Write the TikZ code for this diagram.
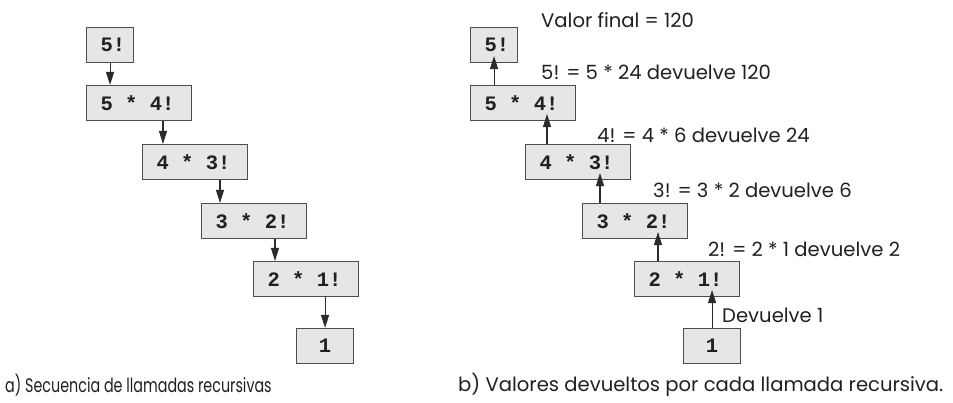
\documentclass[tikz,border=0pt]{standalone}
\usepackage{fontspec}
\setmainfont{Poppins}
\setmonofont{Liberation Mono}
\newfontfamily\capafont{Poppins}[FakeStretch=0.73]
\newcommand\monogap{\hspace*{0.6em}}
\usetikzlibrary{arrows.meta,calc}
\definecolor{boxfill}{HTML}{E6E6E6}
\definecolor{boxline}{HTML}{4D4D4D}
\definecolor{arrcol}{HTML}{2B2B2B}
\definecolor{txt}{HTML}{231F20}
\begin{document}
\begin{tikzpicture}[x=1pt,y=-1pt,
  bx/.style={draw=boxline, fill=boxfill, line width=1.1pt, anchor=west,
    minimum height=35pt, inner xsep=14pt, inner ysep=0pt, align=left,
    text width=77pt, font=\fontsize{20.5}{20.5}\selectfont\ttfamily\bfseries, text=txt},
  bxs/.style={bx, text width=19pt},
  bxo/.style={bx, text width=29pt, align=center},
  lbl/.style={anchor=west, inner sep=0pt, font=\fontsize{19.6}{19.6}\selectfont, text=txt},
  arr/.style={draw=arrcol, line width=1.1pt, -{Triangle[length=13pt,width=8pt]}}
]
\useasboundingbox (0,0) rectangle (953,403);

% ---- left panel ----
\node[bxs] (l5)  at (86,45)  {5!};
\node[bx]  (l54) at (86,103) {5\monogap*\monogap4!};
\node[bx]  (l43) at (142,162) {4\monogap*\monogap3!};
\node[bx]  (l32) at (201,221) {3\monogap*\monogap2!};
\node[bx]  (l21) at (253,279) {2\monogap*\monogap1!};
\node[bxo] (l1)  at (296,346) {1};

\coordinate (la2) at ($(l43.north west)+(21,0)$);
\coordinate (la3) at ($(l32.north west)+(19,0)$);
\coordinate (la4) at ($(l21.north west)+(22,0)$);
\draw[arr] (l5.south) -- (l5.south |- l54.north);
\draw[arr] (l54.south -| la2) -- (la2);
\draw[arr] (l43.south -| la3) -- (la3);
\draw[arr] (l32.south -| la4) -- (la4);
\draw[arr] (l21.south -| l1.north) -- (l1.north);

% ---- right panel ----
\node[bxs] (r5)  at (470,45)  {5!};
\node[bx]  (r54) at (470,103) {5\monogap*\monogap4!};
\node[bx]  (r43) at (525,162) {4\monogap*\monogap3!};
\node[bx]  (r32) at (582,221) {3\monogap*\monogap2!};
\node[bx]  (r21) at (634,279) {2\monogap*\monogap1!};
\node[bxo] (r1)  at (683,346) {1};

\coordinate (ra2) at ($(r43.north west)+(22,0)$);
\coordinate (ra3) at ($(r32.north west)+(18,0)$);
\coordinate (ra4) at ($(r21.north west)+(24,0)$);
\draw[arr] (r54.north -| r5.south) -- ($(r5.south)+(0,-7)$);
\draw[arr] (ra2) -- ($(r54.south -| ra2)+(0,-7)$);
\draw[arr] (ra3) -- ($(r43.south -| ra3)+(0,-7)$);
\draw[arr] (ra4) -- ($(r32.south -| ra4)+(0,-7)$);
\draw[arr] (r1.north) -- ($(r21.south -| r1.north)+(0,-7)$);

% ---- labels ----
\node[lbl] (t0) at (541,20)  {Valor final = 120};
\node[lbl] (t1) at (541,72)  {5! = 5 * 24 devuelve 120};
\node[lbl] (t2) at (597,135) {4! = 4 * 6 devuelve 24};
\node[lbl] (t3) at (653,190) {3! = 3 * 2 devuelve 6};
\node[lbl] (t4) at (708,249) {2! = 2 * 1 devuelve 2};
\node[lbl] (t5) at (722,315) {Devuelve 1};

\node[lbl, font=\fontsize{19.6}{19.6}\selectfont\capafont] (ca) at (5,385)  {a) Secuencia de llamadas recursivas};
\node[lbl] (cb) at (458,385) {b) Valores devueltos por cada llamada recursiva.};
\end{tikzpicture}
\end{document}
